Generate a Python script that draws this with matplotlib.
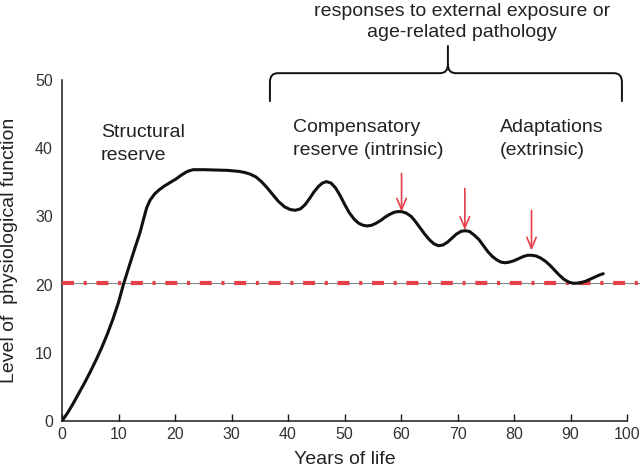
import matplotlib
matplotlib.use("Agg")
import matplotlib.pyplot as plt
from matplotlib.path import Path
from matplotlib.patches import PathPatch

plt.rcParams['font.family'] = ['Liberation Sans', 'DejaVu Sans']
plt.rcParams['lines.scale_dashes'] = False

# ---- data ----
years = [0, 1, 2, 3, 4, 5, 6, 7, 8, 9, 10, 10.9, 12, 13, 13.8, 14.5, 15.0, 15.6, 16.4,
         17.2, 18.2, 19.2, 20.2, 21.2, 22.2, 23.2, 25.2, 27.2, 29.3, 31.3, 32.3, 33.3,
         34.3, 35.3, 36.3, 37.3, 38.3, 39.4, 40.4, 41.3,
         42.2, 43.0, 43.8, 44.6, 45.4, 46.1, 46.8,
         47.6, 48.4, 49.2, 50.0, 50.8, 51.7, 52.5, 53.3, 54.0,
         54.8, 55.6, 56.4, 57.2, 58.0, 58.8, 59.4, 60.1,
         60.9, 61.8, 62.6, 63.4, 64.2, 65.0, 65.8, 66.6,
         67.4, 68.2, 69.0, 69.8, 70.6, 71.3,
         72.1, 72.9, 73.8, 74.6, 75.4, 76.2, 77.0, 77.7, 78.4,
         79.2, 80.0, 80.8, 81.6, 82.4, 83.1,
         83.9, 84.7, 85.6, 86.4, 87.2, 88.0, 88.8, 89.6, 90.4, 91.1,
         91.9, 92.7, 93.5, 94.3, 95.1, 95.8]
function = [0, 1.2, 2.6, 4.1, 5.6, 7.2, 8.9, 10.7, 12.7, 14.9, 17.4, 20.1, 23.0, 25.6,
            27.6, 29.8, 31.3, 32.4, 33.3, 33.9, 34.5, 35.0, 35.5, 36.1, 36.6, 36.85,
            36.85, 36.8, 36.75, 36.6, 36.45, 36.2,
            35.8, 35.1, 34.2, 33.2, 32.2, 31.4, 31.0, 30.9,
            31.1, 31.7, 32.6, 33.6, 34.4, 34.9, 35.1,
            34.9, 34.2, 33.1, 31.8, 30.6, 29.6, 29.0, 28.7, 28.6,
            28.7, 29.0, 29.4, 29.9, 30.3, 30.6, 30.7, 30.7,
            30.5, 30.0, 29.2, 28.3, 27.4, 26.6, 26.0, 25.7,
            25.8, 26.2, 26.8, 27.4, 27.8, 27.9,
            27.8, 27.3, 26.6, 25.7, 24.8, 24.1, 23.6, 23.3, 23.2,
            23.3, 23.5, 23.8, 24.1, 24.3, 24.3,
            24.2, 23.9, 23.4, 22.8, 22.1, 21.4, 20.8, 20.4, 20.2, 20.2,
            20.3, 20.5, 20.8, 21.1, 21.4, 21.6]
threshold = 20.2
arrow_x = [60.1, 71.3, 83.1]
arrow_top = [36.3, 34.1, 30.9]
arrow_tip = [30.7, 28.0, 25.0]
xticks = [0, 10, 20, 30, 40, 50, 60, 70, 80, 90, 100]
yticks = [0, 10, 20, 30, 40, 50]

W, H = 640, 473
fig = plt.figure(figsize=(W / 100, H / 100), dpi=100)
L, R, B, T = 62, 627, 421, 80
ax = fig.add_axes([L / W, 1 - B / H, (R - L) / W, (B - T) / H])
ax.set_xlim(0, 100)
ax.set_ylim(0, 50)

tc = '#222222'
for s in ['top', 'right']:
    ax.spines[s].set_visible(False)
for s in ['left', 'bottom']:
    ax.spines[s].set_color('#1a1a1a')
    ax.spines[s].set_linewidth(1.1)

ax.set_xticks(xticks)
ax.set_yticks(yticks)
ax.tick_params(axis='x', direction='in', length=5, width=1, color='#1a1a1a',
               pad=4, labelsize=11.5, labelcolor='#333333')
ax.tick_params(axis='y', length=0, pad=6.5, labelsize=11.5, labelcolor='#333333')

# threshold line: thin grey line with red dash-dot on top
ax.plot([0, 102.5], [threshold, threshold], color='#7d8c8c', lw=0.8,
        clip_on=False, zorder=2)
red, = ax.plot([0, 102.5], [threshold, threshold], color='#e5404a', lw=3.0,
               clip_on=False, zorder=3, solid_capstyle='butt')
red.set_dashes((8.6, 7.0, 2.2, 7.0))
red.set_dash_capstyle('butt')

# main curve
ax.plot(years, function, color='#111111', lw=2.2, solid_joinstyle='round',
        solid_capstyle='round', zorder=4)

# arrows
for x, y0, y1 in zip(arrow_x, arrow_top, arrow_tip):
    ax.annotate('', xy=(x, y1), xytext=(x, y0),
                arrowprops=dict(arrowstyle='->,head_length=0.8,head_width=0.34',
                                color='#e5404a', lw=1.2, shrinkA=0, shrinkB=0),
                zorder=5)

# brace
xl, xm, xr = 36.8, 68.3, 99.1
yb, yh, yt = 46.8, 51.0, 55.1
rx, ry = 1.4, 1.3
verts = [(xl, yb), (xl, yh - ry), (xl, yh), (xl + rx, yh), (xm - rx, yh), (xm, yh),
         (xm, yh + ry), (xm, yt),
         (xm, yh + ry), (xm, yh), (xm + rx, yh), (xr - rx, yh), (xr, yh), (xr, yh - ry),
         (xr, yb)]
codes = [Path.MOVETO, Path.LINETO, Path.CURVE3, Path.CURVE3, Path.LINETO, Path.CURVE3,
         Path.CURVE3, Path.LINETO,
         Path.MOVETO, Path.CURVE3, Path.CURVE3, Path.LINETO, Path.CURVE3, Path.CURVE3,
         Path.LINETO]
ax.add_patch(PathPatch(Path(verts, codes), facecolor='none', edgecolor='#111111',
                       lw=1.4, clip_on=False))

# labels
ax.set_xlabel('Years of life', fontsize=14, color=tc)
ax.xaxis.set_label_coords(0.5, -0.088)
ax.set_ylabel('Level of  physiological function', fontsize=14, color=tc)
ax.yaxis.set_label_coords(-0.077, 0.5)


def ftext(px, py, s, **kw):
    fig.text(px / W, 1 - py / H, s, fontsize=14, color=tc, **kw)


ftext(462, 16, 'responses to external exposure or', ha='center', va='baseline')
ftext(462, 37, 'age-related pathology', ha='center', va='baseline')
ftext(101, 137, 'Structural', ha='left', va='baseline')
ftext(101, 160, 'reserve', ha='left', va='baseline')
ftext(293, 132, 'Compensatory', ha='left', va='baseline')
ftext(293, 155, 'reserve (intrinsic)', ha='left', va='baseline')
ftext(500, 132, 'Adaptations', ha='left', va='baseline')
ftext(500, 155, '(extrinsic)', ha='left', va='baseline')

fig.savefig('out.png', dpi=100)
